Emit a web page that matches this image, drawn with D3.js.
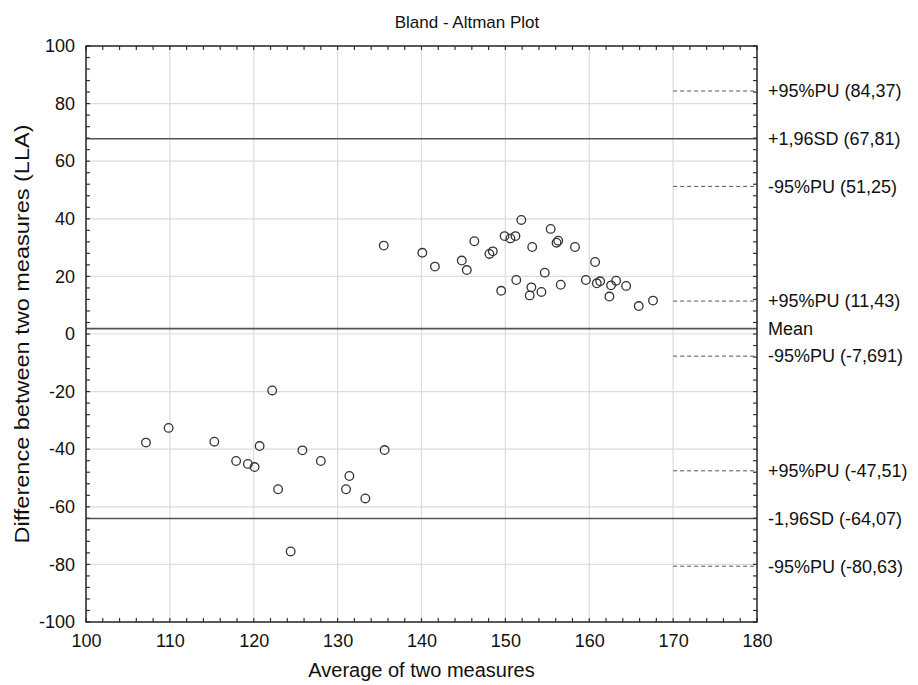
<!DOCTYPE html>
<html><head><meta charset="utf-8">
<script src="https://cdn.jsdelivr.net/npm/d3@7"></script>
<style>body{margin:0;background:#fff}svg{display:block;font-family:"Liberation Sans",Arial,sans-serif}</style>
</head><body>
<svg id="c" width="918" height="685"></svg>
<script>
const avgValues = [140.1,141.6,144.8,145.4,146.3,148.1,148.5,149.5,149.9,150.6,151.2,151.3,151.9,153.1,152.9,153.2,154.3,154.7,155.4,156.1,156.3,156.6,158.3,159.6,160.7,160.9,161.3,162.4,162.6,163.2,164.4,165.9,167.6,135.5,
  107.15,109.85,115.3,117.9,119.3,120.1,120.7,122.9,124.4,125.8,128.0,131.4,131.0,133.3,122.2,135.6];
const diffValues = [28.2,23.4,25.5,22.2,32.2,27.8,28.7,15.0,34.0,33.2,34.0,18.75,39.6,16.2,13.4,30.2,14.6,21.3,36.5,31.7,32.4,17.1,30.2,18.75,25.0,17.6,18.3,13.0,16.9,18.5,16.7,9.7,11.6,30.7,
  -37.7,-32.6,-37.4,-44.1,-45.1,-46.2,-38.9,-53.9,-75.5,-40.4,-44.1,-49.3,-53.9,-57.1,-19.6,-40.3];
const solidLines = [67.81, 1.87, -64.07];
const solidLabels = ["+1,96SD (67,81)", "Mean", "-1,96SD (-64,07)"];
const dashedLines = [84.37, 51.25, 11.43, -7.691, -47.51, -80.63];
const dashedLabels = ["+95%PU (84,37)", "-95%PU (51,25)", "+95%PU (11,43)", "-95%PU (-7,691)", "+95%PU (-47,51)", "-95%PU (-80,63)"];
const xTicks = [100,110,120,130,140,150,160,170,180];
const yTicks = [-100,-80,-60,-40,-20,0,20,40,60,80,100];

const svg = d3.select("#c");
const L=86, R=757, T=46, B=622;
const x = d3.scaleLinear().domain([100,180]).range([L,R]);
const y = d3.scaleLinear().domain([-100,100]).range([B,T]);
const FONT = "Liberation Sans, Arial, sans-serif";

// grid
const g = svg.append("g");
g.selectAll(".gx").data(xTicks.slice(1,-1)).join("line")
  .attr("x1",d=>x(d)).attr("x2",d=>x(d)).attr("y1",T).attr("y2",B)
  .attr("stroke","#dcdcdc").attr("stroke-width",1.2);
g.selectAll(".gy").data(yTicks.slice(1,-1)).join("line")
  .attr("y1",d=>y(d)).attr("y2",d=>y(d)).attr("x1",L).attr("x2",R)
  .attr("stroke","#dcdcdc").attr("stroke-width",1.2);

// reference lines
svg.selectAll(".sl").data(solidLines).join("line")
  .attr("x1",L).attr("x2",R).attr("y1",d=>y(d)).attr("y2",d=>y(d))
  .attr("stroke","#555").attr("stroke-width",1.6);
svg.selectAll(".dl").data(dashedLines).join("line")
  .attr("x1",x(170)).attr("x2",R).attr("y1",d=>y(d)).attr("y2",d=>y(d))
  .attr("stroke","#555").attr("stroke-width",1).attr("stroke-dasharray","4,3");

// points
svg.selectAll(".pt").data(avgValues).join("circle")
  .attr("cx",d=>x(d)).attr("cy",(d,i)=>y(diffValues[i])).attr("r",4.3)
  .attr("fill","none").attr("stroke","#333").attr("stroke-width",1.3);

// minor ticks
const xMinor = d3.range(100,181,2), yMinor = d3.range(-100,101,4);
const tk = svg.append("g").attr("stroke","#333").attr("stroke-width",1.2);
xMinor.forEach(v=>{
  tk.append("line").attr("x1",x(v)).attr("x2",x(v)).attr("y1",B).attr("y2",B-4);
  tk.append("line").attr("x1",x(v)).attr("x2",x(v)).attr("y1",T).attr("y2",T+4);
});
yMinor.forEach(v=>{
  tk.append("line").attr("y1",y(v)).attr("y2",y(v)).attr("x1",L).attr("x2",L+4);
  tk.append("line").attr("y1",y(v)).attr("y2",y(v)).attr("x1",R).attr("x2",R-4);
});

// axes
const fmt = d => String(d);
const ax = svg.append("g").attr("transform",`translate(0,${B})`)
  .call(d3.axisBottom(x).tickValues(xTicks).tickFormat(fmt).tickSize(0).tickPadding(12));
const ay = svg.append("g").attr("transform",`translate(${L},0)`)
  .call(d3.axisLeft(y).tickValues(yTicks).tickFormat(fmt).tickSize(0).tickPadding(11));
[ax,ay].forEach(a=>{a.select(".domain").remove(); a.selectAll("text").attr("font-size",18).attr("fill","#111").attr("font-family",FONT);});
ax.selectAll("text").attr("dy","0.71em").attr("y",12);

svg.append("rect").attr("x",L).attr("y",T).attr("width",R-L).attr("height",B-T)
  .attr("fill","none").attr("stroke","#222").attr("stroke-width",1.5);

// right labels
svg.selectAll(".slt").data(solidLines).join("text")
  .attr("x",768).attr("y",d=>y(d)).attr("dy","0.35em").attr("font-size",18).attr("fill","#111")
  .text((d,i)=>solidLabels[i]);
svg.selectAll(".dlt").data(dashedLines).join("text")
  .attr("x",768).attr("y",d=>y(d)).attr("dy","0.35em").attr("font-size",18).attr("fill","#111")
  .text((d,i)=>dashedLabels[i]);

// titles
svg.append("text").attr("x",467).attr("y",28).attr("text-anchor","middle").attr("font-size",17).attr("fill","#111").text("Bland - Altman Plot");
svg.append("text").attr("x",(L+R)/2).attr("y",677).attr("text-anchor","middle").attr("font-size",20).attr("fill","#111").text("Average of two measures");
svg.append("text").attr("transform",`translate(29,${(T+B)/2}) rotate(-90) scale(1.12,1)`).attr("text-anchor","middle").attr("font-size",21).attr("fill","#111").text("Difference between two measures (LLA)");
</script>
</body></html>
